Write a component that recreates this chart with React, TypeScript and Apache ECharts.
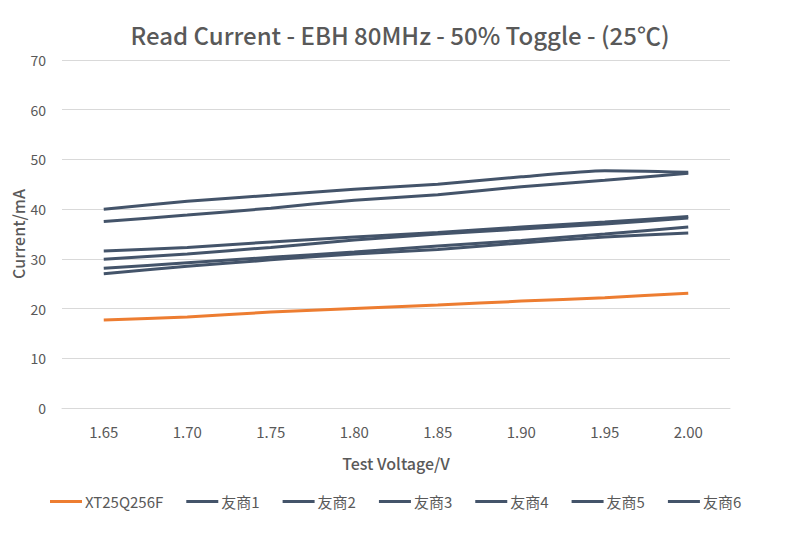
import React, { useEffect, useRef } from "react";
import * as echarts from "echarts";

const categories = ["1.65", "1.70", "1.75", "1.80", "1.85", "1.90", "1.95", "2.00"];
const seriesNames = ["XT25Q256F", "友商1", "友商2", "友商3", "友商4", "友商5", "友商6"];
const xt25 = [17.7, 18.3, 19.3, 20.0, 20.7, 21.5, 22.2, 23.1];
const v1 = [40.0, 41.6, 42.8, 44.0, 45.0, 46.5, 47.7, 47.4];
const v2 = [37.5, 38.8, 40.2, 41.8, 42.9, 44.5, 45.8, 47.2];
const v3 = [31.6, 32.3, 33.4, 34.4, 35.3, 36.4, 37.4, 38.5];
const v4 = [29.9, 31.0, 32.3, 33.8, 35.0, 36.0, 37.0, 38.2];
const v5 = [28.1, 29.2, 30.3, 31.4, 32.6, 33.7, 35.0, 36.4];
const v6 = [27.0, 28.5, 29.8, 31.0, 31.9, 33.2, 34.4, 35.2];
const yTicks = [0, 10, 20, 30, 40, 50, 60, 70];

const FONT = "'Noto Sans CJK SC', 'Noto Sans', sans-serif";
const TEXT = "#595959";

export default function App() {
  const ref = useRef<HTMLDivElement>(null);
  useEffect(() => {
    if (!ref.current) return;
    const chart = echarts.init(ref.current, undefined, { renderer: "svg" });
    const all = [xt25, v1, v2, v3, v4, v5, v6];
    const colors = ["#ED7D31", "#44546A", "#44546A", "#44546A", "#44546A", "#44546A", "#44546A"];
    chart.setOption({
      animation: false,
      textStyle: { fontFamily: FONT },
      title: {
        text: "Read Current - EBH 80MHz - 50% Toggle - (25℃)",
        left: "center",
        top: 17,
        textStyle: { fontFamily: FONT, fontSize: 24, fontWeight: 500, color: TEXT },
      },
      legend: {
        top: 489,
        left: 45,
        icon: "rect",
        itemWidth: 32,
        itemHeight: 3,
        itemGap: 23,
        textStyle: { fontFamily: FONT, fontSize: 15, color: TEXT, padding: [0, 0, 0, -2] },
        data: seriesNames,
      },
      grid: { left: 62, right: 70, top: 60, bottom: 131, outerBoundsMode: "none", containLabel: false },
      xAxis: {
        type: "category",
        data: categories,
        boundaryGap: true,
        axisLine: { show: true, lineStyle: { color: "#d9d9d9", width: 1 } },
        axisTick: { show: false },
        axisLabel: { color: TEXT, fontSize: 15, margin: 16, fontFamily: FONT },
        name: "Test Voltage/V",
        nameLocation: "middle",
        nameGap: 47,
        nameTextStyle: { color: TEXT, fontSize: 16, fontWeight: 500, fontFamily: FONT },
      },
      yAxis: {
        type: "value",
        min: yTicks[0],
        max: yTicks[yTicks.length - 1],
        interval: 10,
        axisLine: { show: false },
        axisTick: { show: false },
        axisLabel: { color: TEXT, fontSize: 14, margin: 16, fontFamily: FONT },
        splitLine: { lineStyle: { color: "#d9d9d9", width: 1 } },
        name: "Current/mA",
        nameLocation: "middle",
        nameGap: 36,
        nameMoveOverlap: false,
        nameTextStyle: { color: TEXT, fontSize: 16, fontWeight: 500, fontFamily: FONT },
      },
      series: all.map((d, i) => ({
        name: seriesNames[i],
        type: "line",
        data: d,
        symbol: "none",
        smooth: 0.2,
        color: colors[i],
        lineStyle: { color: colors[i], width: 3 },
      })),
    });
    return () => chart.dispose();
  }, []);
  return <div ref={ref} style={{ width: 800, height: 539, margin: -8 }} />;
}
